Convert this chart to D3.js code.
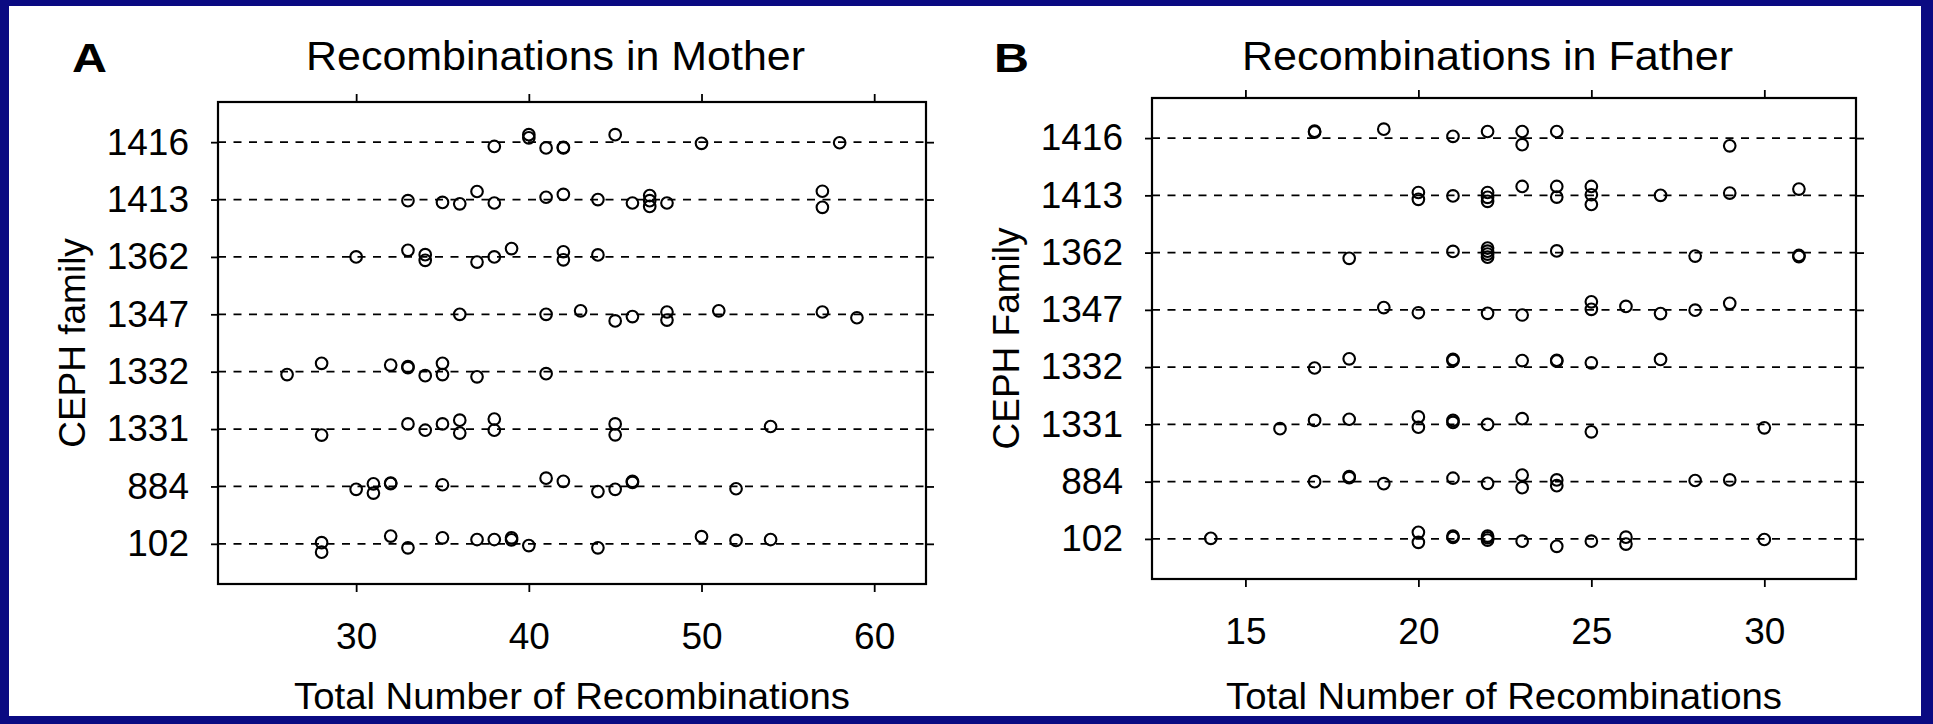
<!DOCTYPE html>
<html><head><meta charset="utf-8">
<script src="https://cdn.jsdelivr.net/npm/d3@7"></script>
<style>html,body{margin:0;padding:0;background:#0a0a82;} svg{display:block}</style>
</head><body><svg id="chart" width="1933" height="724"></svg>
<script>
// ---- data ----
const families = ["102", "884", "1331", "1332", "1347", "1362", "1413", "1416"];

const motherTicks = [30, 40, 50, 60];
const fatherTicks = [15, 20, 25, 30];

const motherValues = [
  [28, 28, 32, 33, 35, 37, 38, 39, 39, 40, 44, 50, 52, 54],
  [30, 31, 31, 32, 32, 35, 41, 42, 44, 45, 46, 46, 52],
  [28, 33, 34, 35, 36, 36, 38, 38, 45, 45, 54],
  [26, 28, 32, 33, 33, 34, 35, 35, 37, 41],
  [36, 41, 43, 45, 46, 48, 48, 51, 57, 59],
  [30, 33, 34, 34, 37, 38, 39, 42, 42, 44],
  [33, 35, 36, 37, 38, 41, 42, 44, 46, 47, 47, 47, 48, 57, 57],
  [38, 40, 40, 41, 42, 42, 45, 50, 58]
];
// vertical jitter of each point, in family units
const motherJitter = [
  [0.02, -0.145, 0.135, -0.07, 0.105, 0.075, 0.075, 0.105, 0.07, -0.03, -0.07, 0.125, 0.06, 0.075],
  [-0.05, 0.045, -0.115, 0.06, 0.05, 0.03, 0.145, 0.09, -0.09, -0.05, 0.09, 0.07, -0.04],
  [-0.105, 0.09, -0.02, 0.09, 0.155, -0.07, 0.175, -0.02, 0.09, -0.10, 0.045],
  [-0.05, 0.145, 0.115, 0.09, 0.07, -0.07, 0.145, -0.05, -0.09, -0.035],
  [0, 0, 0.06, -0.115, -0.04, 0.04, -0.10, 0.06, 0.04, -0.06],
  [0, 0.115, 0.04, -0.06, -0.09, 0, 0.145, 0.09, -0.05, 0.035],
  [-0.02, -0.05, -0.075, 0.14, -0.06, 0.04, 0.09, 0, -0.06, 0.07, -0.02, -0.12, -0.06, 0.145, -0.135],
  [-0.075, 0.13, 0.075, -0.10, -0.09, -0.10, 0.13, -0.02, -0.01]
];

const fatherValues = [
  [14, 20, 20, 21, 21, 22, 22, 22, 23, 24, 25, 26, 26, 30],
  [17, 18, 18, 19, 21, 22, 23, 23, 24, 24, 28, 29],
  [16, 17, 18, 20, 20, 21, 21, 22, 23, 25, 30],
  [17, 18, 21, 21, 23, 24, 24, 25, 27],
  [19, 20, 22, 23, 25, 25, 26, 27, 28, 29],
  [18, 21, 22, 22, 22, 22, 24, 28, 31, 31],
  [20, 20, 21, 22, 22, 22, 23, 24, 24, 25, 25, 25, 27, 29, 31],
  [17, 17, 19, 21, 22, 23, 23, 24, 29]
];
const fatherJitter = [
  [0.01, 0.115, -0.06, 0.05, 0.025, 0.05, 0.02, -0.02, -0.04, -0.13, -0.04, 0.03, -0.09, -0.01],
  [0, 0.07, 0.09, -0.035, 0.06, -0.03, 0.115, -0.105, 0.03, -0.07, 0.02, 0.03],
  [-0.075, 0.07, 0.09, 0.13, -0.05, 0.07, 0.035, 0, 0.10, -0.13, -0.06],
  [-0.015, 0.145, 0.135, 0.115, 0.115, 0.12, 0.105, 0.075, 0.135],
  [0.04, -0.05, -0.06, -0.09, 0.14, 0.01, 0.06, -0.065, -0.005, 0.115],
  [-0.10, 0.02, 0.08, 0.025, -0.025, -0.08, 0.03, -0.06, -0.05, -0.07],
  [0.05, -0.07, -0.01, 0.05, -0.035, -0.105, 0.155, 0.155, -0.03, 0.155, 0.01, -0.16, 0, 0.04, 0.11],
  [0.12, 0.105, 0.155, 0.03, 0.115, 0.115, -0.115, 0.115, -0.135]
];

// ---- drawing ----
const FONT = "'Liberation Sans', Arial, Helvetica, sans-serif";
const svg = d3.select("#chart");
svg.append("rect").attr("width", 1933).attr("height", 724).attr("fill", "#0a0a82");
svg.append("rect").attr("x", 9).attr("y", 6).attr("width", 1912).attr("height", 710).attr("fill", "#ffffff");

function panel(cfg) {
  const x = d3.scaleLinear().domain(cfg.domain).range([cfg.left, cfg.right]);
  const y = d3.scaleLinear().domain([-0.7, families.length - 1 + 0.7]).range([cfg.bottom, cfg.top]);
  const g = svg.append("g");
  const idx = d3.range(families.length);

  // dashed reference lines
  g.selectAll("line.ref").data(idx).join("line").attr("class", "ref")
    .attr("x1", cfg.left).attr("x2", cfg.right)
    .attr("y1", d => y(d)).attr("y2", d => y(d))
    .attr("stroke", "#000").attr("stroke-width", 1.7).attr("stroke-dasharray", "8,7.5");

  // axes
  const styleAxis = sel => {
    sel.select(".domain").remove();
    sel.selectAll(".tick line").attr("stroke", "#000").attr("stroke-width", 1.8);
    sel.selectAll("text").attr("fill", "#000").style("font-family", FONT).style("font-size", "37px");
  };
  g.append("g").attr("transform", `translate(0,${cfg.bottom})`)
    .call(d3.axisBottom(x).tickValues(cfg.ticks).tickSize(8).tickPadding(31)).call(styleAxis);
  g.append("g").attr("transform", `translate(0,${cfg.top})`)
    .call(d3.axisTop(x).tickValues(cfg.ticks).tickSize(8).tickFormat("")).call(styleAxis);
  g.append("g").attr("transform", `translate(${cfg.left},0)`)
    .call(d3.axisLeft(y).tickValues(idx).tickFormat(i => families[i]).tickSize(7).tickPadding(22)).call(styleAxis);
  g.append("g").attr("transform", `translate(${cfg.right},0)`)
    .call(d3.axisRight(y).tickValues(idx).tickFormat("").tickSize(8)).call(styleAxis);

  // box
  g.append("rect").attr("x", cfg.left).attr("y", cfg.top)
    .attr("width", cfg.right - cfg.left).attr("height", cfg.bottom - cfg.top)
    .attr("fill", "none").attr("stroke", "#000").attr("stroke-width", 2.2);

  // points
  const pts = [];
  cfg.values.forEach((arr, fi) => arr.forEach((v, k) => pts.push({ fi, v, j: cfg.jitter[fi][k] })));
  g.selectAll("circle").data(pts).join("circle")
    .attr("cx", d => x(d.v)).attr("cy", d => y(d.fi + d.j)).attr("r", 5.8)
    .attr("fill", "none").attr("stroke", "#000").attr("stroke-width", 2.1);

  // texts
  g.append("text").attr("x", cfg.letterX).attr("y", 72)
    .attr("textLength", 35).attr("lengthAdjust", "spacingAndGlyphs")
    .style("font-family", FONT).style("font-size", "40px").style("font-weight", "bold").text(cfg.letter);
  g.append("text").attr("x", cfg.titleX).attr("y", 70)
    .attr("textLength", cfg.titleLen).attr("lengthAdjust", "spacingAndGlyphs")
    .style("font-family", FONT).style("font-size", "40px").text(cfg.title);
  const cx = (cfg.left + cfg.right) / 2;
  g.append("text").attr("x", cx).attr("y", 709).attr("text-anchor", "middle")
    .attr("textLength", 556).attr("lengthAdjust", "spacingAndGlyphs")
    .style("font-family", FONT).style("font-size", "37px").text("Total Number of Recombinations");
  const cy = (cfg.top + cfg.bottom) / 2;
  g.append("text").attr("transform", `translate(${cfg.left - 146},${cy}) rotate(-90)`)
    .attr("text-anchor", "middle").attr("dy", "0.36em")
    .style("font-family", FONT).style("font-size", "37px").text(cfg.ylabel);
}

panel({ left: 218, right: 926, top: 102, bottom: 584, domain: [22, 63], ticks: motherTicks,
  values: motherValues, jitter: motherJitter, letter: "A", letterX: 72,
  title: "Recombinations in Mother", titleX: 306, titleLen: 499, ylabel: "CEPH family" });
panel({ left: 1152, right: 1856, top: 98, bottom: 579, domain: [12.3, 32.65], ticks: fatherTicks,
  values: fatherValues, jitter: fatherJitter, letter: "B", letterX: 994,
  title: "Recombinations in Father", titleX: 1242, titleLen: 491, ylabel: "CEPH Family" });
</script></body></html>
